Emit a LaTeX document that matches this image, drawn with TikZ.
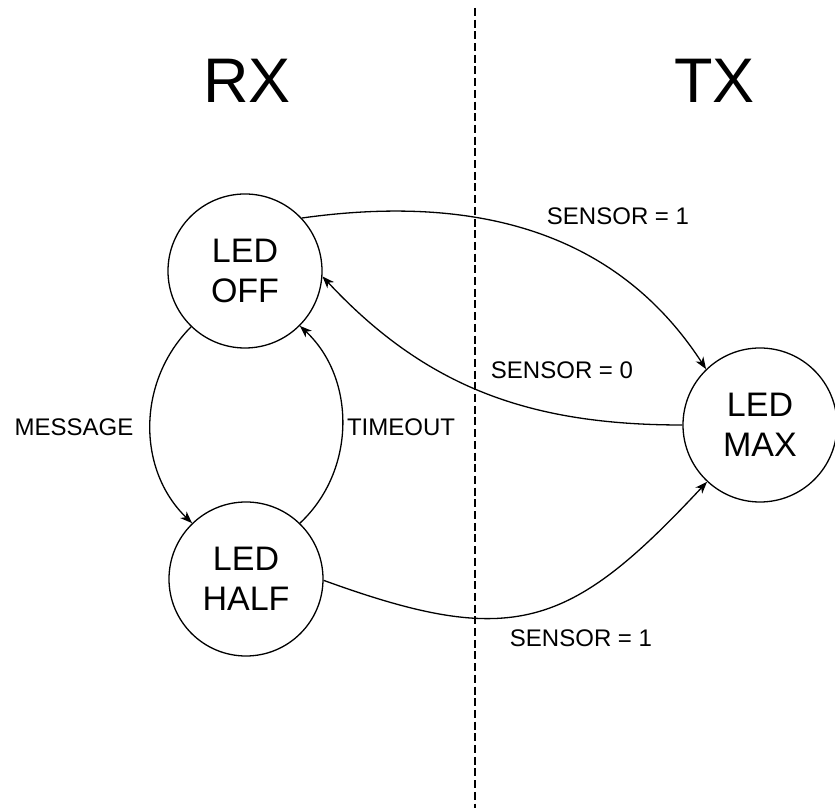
\documentclass[tikz,border=0pt]{standalone}
\usepackage{fontspec}
\setmainfont{Liberation Sans}
\usetikzlibrary{arrows.meta}
\tikzset{
	ledstate/.style={circle,draw,line width=1.3pt,minimum size=154pt,inner sep=0pt,align=center,font=\fontsize{34}{40}\selectfont},
	cond/.style={inner sep=0pt,font=\fontsize{24}{28}\selectfont},
	side/.style={inner sep=0pt,anchor=base,font=\fontsize{63}{70}\selectfont},
	trans/.style={line width=1.3pt,-{Stealth[length=12pt,width=9pt,inset=3.5pt]}}
}
\begin{document}
\begin{tikzpicture}[x=1pt,y=1pt]
			\useasboundingbox (0,0) rectangle (835,808);
			\coordinate (divtop) at (475,800); \coordinate (divbot) at (475,0);
			\draw[line width=1.3pt,dash pattern=on 8pt off 3.7pt] (divtop) -- (divbot); % RX | TX
			\node[side] (rx) at (247,705) {RX}; \node[side] (tx) at (714.5,705) {TX};
			\node[ledstate] (off) at (245,537) {LED\\OFF};
			\node[ledstate] (half) at (246,229) {LED\\HALF};
			\node[ledstate] (max) at (760,383) {LED\\MAX};
			\draw[trans] (off.43) to[out=8,in=123] (max.134); %\draw[trans] (off)--(max);
			\draw[trans] (max.180) to[out=180,in=-47] (off.-4);
			\draw[trans] (off.226) to[out=225,in=136] (half.134);
			\draw[trans] (half.46) to[out=43,in=-43] (off.-45);
			\draw[trans] (half.-1) to[out=-20,in=227,looseness=1.3] (max.227);
			\node[cond] (son1) at (618,591.5) {SENSOR = 1};
			\node[cond] (soff) at (562,437.5) {SENSOR = 0};
			\node[cond] (son2) at (581,170) {SENSOR = 1};
			\node[cond] (msg) at (74,381) {MESSAGE}; \node[cond] (tmo) at (401,381) {TIMEOUT};
\end{tikzpicture}
\end{document}
